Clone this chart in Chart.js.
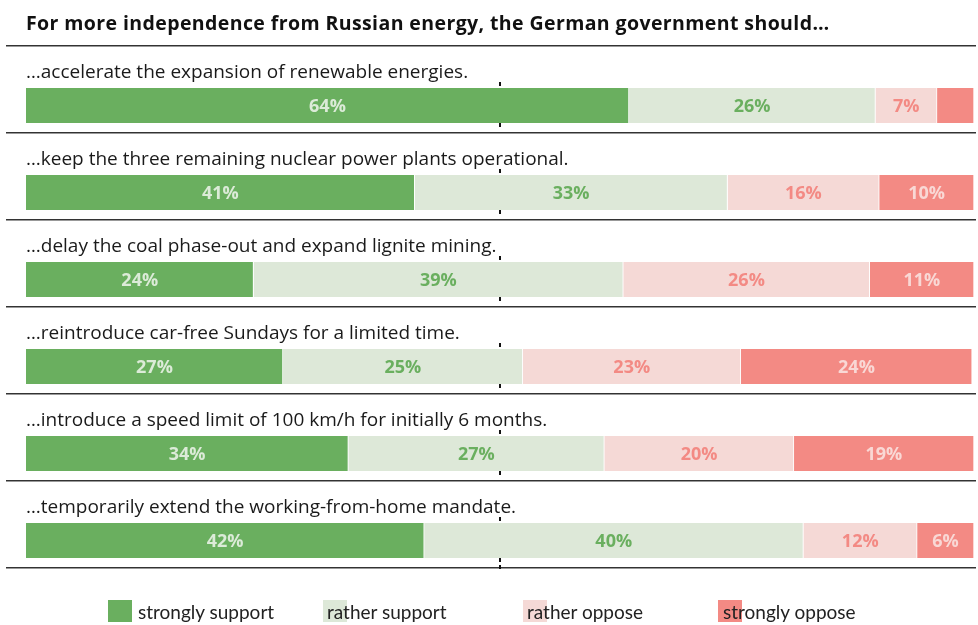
<!DOCTYPE html>
<html>
<head>
<meta charset="utf-8">
<script src="https://cdn.jsdelivr.net/npm/chart.js@4/dist/chart.umd.min.js"></script>
<style>
  html, body { margin: 0; padding: 0; background: #fff; }
  #wrap { position: relative; width: 978px; height: 625px; overflow: hidden; }
  #chart { position: absolute; left: 0; top: 0; }
  .title { position: absolute; left: 26px; top: 9px; font: bold 19.5px "Open Sans", sans-serif; color: #111; letter-spacing: 0.4px; }
  .leg { position: absolute; top: 600px; height: 22px; }
  .leg__sw { position: absolute; top: 0; width: 24px; height: 22px; }
  .leg__txt { position: absolute; top: 0; line-height: 22px; font: 19px Lato, sans-serif; color: #222; white-space: nowrap; }
</style>
</head>
<body>
<div id="wrap">
  <canvas id="chart" width="978" height="625"></canvas>
  <div class="title">For more independence from Russian energy, the German government should…</div>
  <div id="legend"></div>
</div>
<script>
/* Survey: measures for more independence from Russian energy */
const statements = [
  '…accelerate the expansion of renewable energies.',
  '…keep the three remaining nuclear power plants operational.',
  '…delay the coal phase-out and expand lignite mining.',
  '…reintroduce car-free Sundays for a limited time.',
  '…introduce a speed limit of 100 km/h for initially 6 months.',
  '…temporarily extend the working-from-home mandate.'
];
const seriesNames = ['strongly support', 'rather support', 'rather oppose', 'strongly oppose'];
// shares in % (labels show them rounded)
const stronglySupport = [63.6, 41, 24, 27.1, 34, 42];
const ratherSupport   = [26, 33, 39, 25.3, 27, 40];
const ratherOppose    = [6.5, 16, 26, 23, 20, 12];
const stronglyOppose  = [3.9, 10, 11, 24.4, 19, 6];
const hiddenLabels    = [[], [], [], [0]]; // unlabeled segments (series -> row indexes)

const fillColors  = ['#6aaf5f', '#dde8d8', '#f5d9d6', '#f38a84'];
const labelColors = ['#dcebd8', '#6aaf5f', '#f38a84', '#f9d8d5'];
const legendPos = [
  { sw: 108, txt: 138 },
  { sw: 323, txt: 327 },
  { sw: 523, txt: 527 },
  { sw: 718, txt: 723 }
];

// HTML legend
const legendEl = document.getElementById('legend');
seriesNames.forEach((name, i) => {
  const item = document.createElement('div');
  item.className = 'leg';
  item.innerHTML =
    `<span class="leg__sw" style="left:${legendPos[i].sw}px;background:${fillColors[i]}"></span>` +
    `<span class="leg__txt" style="left:${legendPos[i].txt}px">${name}</span>`;
  legendEl.appendChild(item);
});

const BAR_H = 35;

// row labels, separators, centre ticks and value labels
const decorPlugin = {
  id: 'decor',
  afterDatasetsDraw(chart) {
    const ctx = chart.ctx;
    const x = chart.scales.x;
    const y = chart.scales.y;
    ctx.save();

    // separators
    const seps = [45];
    statements.forEach((s, i) => seps.push(Math.round(y.getPixelForValue(i) + BAR_H / 2 + 9)));
    seps.forEach(sy => {
      ctx.fillStyle = '#333';
      ctx.fillRect(6, sy, 970, 1);
      ctx.fillStyle = '#999';
      ctx.fillRect(6, sy + 1, 970, 1);
    });

    // row labels
    ctx.fillStyle = '#1a1a1a';
    ctx.font = '19px "Open Sans", sans-serif';
    ctx.textAlign = 'left';
    ctx.textBaseline = 'middle';
    statements.forEach((s, i) => {
      ctx.fillText(s, x.left, y.getPixelForValue(i) - 33);
    });

    // value labels
    ctx.font = 'bold 18px "Open Sans", sans-serif';
    ctx.textAlign = 'center';
    chart.data.datasets.forEach((ds, di) => {
      const meta = chart.getDatasetMeta(di);
      meta.data.forEach((bar, ri) => {
        if (hiddenLabels[di].includes(ri)) return;
        const cx = (bar.x + bar.base) / 2;
        ctx.fillStyle = labelColors[di];
        ctx.fillText(Math.round(ds.data[ri]) + '%', cx, bar.y + 1);
      });
    });

    // centre ticks at 50%
    const mx = Math.round(x.getPixelForValue(50)) - 1;
    ctx.fillStyle = '#111';
    statements.forEach((s, i) => {
      const cy = y.getPixelForValue(i);
      ctx.fillRect(mx, cy - BAR_H / 2 - 6, 2, 4);
      ctx.fillRect(mx, cy + BAR_H / 2, 2, 4);
    });
    ctx.fillRect(mx, seps[seps.length - 1] - 2, 2, 4);

    ctx.restore();
  }
};

const series = [stronglySupport, ratherSupport, ratherOppose, stronglyOppose];

new Chart(document.getElementById('chart'), {
  type: 'bar',
  data: {
    labels: statements,
    datasets: series.map((vals, i) => ({
      label: seriesNames[i],
      data: vals,
      backgroundColor: fillColors[i],
      borderColor: '#ffffff',
      borderWidth: { right: 1, left: 0, top: 0, bottom: 0 },
      borderSkipped: false,
      barThickness: BAR_H
    }))
  },
  options: {
    indexAxis: 'y',
    responsive: false,
    animation: false,
    layout: { padding: { left: 26, right: 4, top: 62, bottom: 41 } },
    plugins: {
      legend: { display: false },
      tooltip: { enabled: false }
    },
    scales: {
      x: { stacked: true, min: 0, max: 100, display: false },
      y: { stacked: true, display: false }
    }
  },
  plugins: [decorPlugin]
});
</script>
</body>
</html>
